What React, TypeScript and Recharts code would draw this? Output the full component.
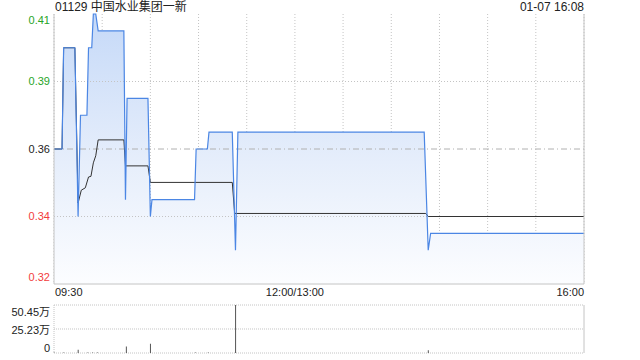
import {
  ComposedChart,
  Area,
  Line,
  Bar,
  XAxis,
  YAxis,
  CartesianGrid,
  ReferenceLine,
} from 'recharts'

// minutes since 09:30 (lunch break removed), price in HKD
const priceTimes = [0, 5, 6, 13, 15, 16.5, 20.5, 21.5, 23.5, 24.5, 26, 27.5, 43.5, 44.5, 45.5, 58.5, 60, 61, 87.5, 88.5, 95.5, 96.5, 111, 113, 114.5, 230.5, 233, 234.5, 330]
const priceValues = [0.365, 0.365, 0.395, 0.395, 0.345, 0.375, 0.375, 0.395, 0.395, 0.405, 0.405, 0.4, 0.4, 0.35, 0.38, 0.38, 0.345, 0.35, 0.35, 0.365, 0.365, 0.37, 0.37, 0.335, 0.37, 0.37, 0.335, 0.34, 0.34]

const avgTimes = [0, 5, 6, 13, 15, 17, 19.5, 21.5, 23, 24.5, 26, 27.5, 43.5, 44.5, 58.5, 60, 111, 112.5, 231.5, 233, 330]
const avgValues = [0.365, 0.365, 0.395, 0.395, 0.349, 0.3528, 0.3535, 0.3567, 0.3569, 0.3609, 0.363, 0.3677, 0.3677, 0.36, 0.36, 0.3551, 0.3551, 0.3459, 0.3459, 0.345, 0.345]

// volume in 万
const volTimes = [0, 6, 15, 21, 24, 27, 45, 60, 88, 96, 113, 233]
const volValues = [0.5, 0.6, 3.5, 0.4, 0.5, 0.6, 6.9, 9.7, 0.4, 0.4, 50.45, 2.8]

const prevClose = 0.365
const priceTicks = [0.325, 0.345, 0.365, 0.385, 0.405]
const priceLabels = ['0.32', '0.34', '0.36', '0.39', '0.41']
const pctLabels = ['-10.96%', '-5.48%', '0.00%', '+5.48%', '+10.96%']
const timeTicks = [0, 30, 60, 90, 120, 150, 180, 210, 240, 270, 300, 330]
const timeLabels: Record<number, string> = { 0: '09:30', 150: '12:00/13:00', 330: '16:00' }
const volTicks = [0, 25.23, 50.45]
const volLabels = ['0', '25.23万', '50.45万']

const priceData = priceTimes.map((t, i) => ({ t, v: priceValues[i] }))
const avgData = avgTimes.map((t, i) => ({ t, a: avgValues[i] }))
const volData = volTimes.map((t, i) => ({ t, vol: volValues[i] }))

const FONT = '"Liberation Sans", Arial, "Noto Sans CJK SC", sans-serif'
const GREEN = '#27a527'
const RED = '#f23c3c'
const GRID = '#c4c4c4'

function tickColor(v: number) {
  if (Math.abs(v - prevClose) < 1e-6) return '#222'
  return v > prevClose ? GREEN : RED
}

function edgeShift(i: number, n: number) {
  if (i === 0) return -7
  if (i === n - 1) return 6
  return 0
}

const LeftPriceTick = (props: any) => {
  const { x, y, payload, index } = props
  return (
    <text x={x} y={y + edgeShift(index, priceTicks.length)} dy="0.35em" textAnchor="end" fontSize={11} fontFamily={FONT} fill={tickColor(payload.value)}>
      {priceLabels[index]}
    </text>
  )
}

const RightPctTick = (props: any) => {
  const { x, y, payload, index } = props
  return (
    <text x={x} y={y + edgeShift(index, priceTicks.length)} dy="0.35em" textAnchor="start" fontSize={11} fontFamily={FONT} fill={tickColor(payload.value)}>
      {pctLabels[index]}
    </text>
  )
}

const TimeTick = (props: any) => {
  const { x, y, payload } = props
  const label = timeLabels[payload.value]
  if (!label) return null
  const anchor = payload.value === 0 ? 'start' : payload.value === 330 ? 'end' : 'middle'
  return (
    <text x={payload.value === 0 ? x + 1 : x} y={y} dy="0.71em" textAnchor={anchor} fontSize={11} fontFamily={FONT} fill="#222">
      {label}
    </text>
  )
}

const VolTick = (props: any) => {
  const { x, y, index } = props
  const shift = index === 0 ? -5 : index === volTicks.length - 1 ? 7 : 1
  return (
    <text x={x} y={y + shift} dy="0.35em" textAnchor="end" fontSize={11} fontFamily={FONT} fill="#222">
      {volLabels[index]}
    </text>
  )
}

export default function App() {
  return (
    <div style={{ position: 'absolute', left: 0, top: 0, width: 640, height: 360, background: '#fff', fontFamily: FONT }}>
      <div style={{ position: 'absolute', left: 55, top: 0, fontSize: 12, lineHeight: '14px', color: '#222' }}>
        01129 中国水业集团一新
      </div>
      <div style={{ position: 'absolute', right: 56, top: 0, fontSize: 12, lineHeight: '14px', color: '#222' }}>
        01-07 16:08
      </div>

      <div style={{ position: 'absolute', left: 0, top: 0 }}>
        <ComposedChart width={640} height={300} margin={{ top: 14, right: 0, bottom: 0, left: 0 }}>
          <defs>
            <linearGradient id="priceFill" x1="0" y1="0" x2="0" y2="1">
              <stop offset="0%" stopColor="#c5d9f8" />
              <stop offset="55%" stopColor="#e6eefb" />
              <stop offset="100%" stopColor="#fcfdff" />
            </linearGradient>
          </defs>
          <XAxis
            type="number"
            dataKey="t"
            domain={[0, 330]}
            ticks={timeTicks}
            height={16}
            tickSize={0}
            tickMargin={4}
            tick={<TimeTick />}
            axisLine={{ stroke: GRID }}
            interval={0}
          />
          <YAxis
            yAxisId="l"
            type="number"
            domain={[0.325, 0.405]}
            ticks={priceTicks}
            width={54}
            tickSize={0}
            tickMargin={4}
            tick={<LeftPriceTick />}
            axisLine={{ stroke: GRID }}
            interval={0}
          />
          <YAxis
            yAxisId="r"
            orientation="right"
            type="number"
            domain={[0.325, 0.405]}
            ticks={priceTicks}
            width={56}
            tickSize={0}
            tickMargin={6}
            tick={<RightPctTick />}
            axisLine={{ stroke: GRID }}
            interval={0}
          />
          <CartesianGrid yAxisId="l" horizontal={false} stroke={GRID} strokeDasharray="1 2" />
          <ReferenceLine yAxisId="l" y={0.345} stroke={GRID} strokeDasharray="1 2" />
          <ReferenceLine yAxisId="l" y={0.385} stroke={GRID} strokeDasharray="1 2" />
          <ReferenceLine yAxisId="l" y={prevClose} stroke="#b0b0b0" strokeDasharray="6 3 1 3" />
          <Area
            yAxisId="l"
            data={priceData}
            dataKey="v"
            type="linear"
            stroke="none"
            fill="url(#priceFill)"
            fillOpacity={1}
            isAnimationActive={false}
            dot={false}
            activeDot={false}
          />
          <Line
            yAxisId="l"
            data={avgData}
            dataKey="a"
            type="linear"
            stroke="#333"
            strokeWidth={1}
            dot={false}
            activeDot={false}
            isAnimationActive={false}
          />
          <Line
            yAxisId="l"
            data={priceData}
            dataKey="v"
            type="linear"
            stroke="#4b86e4"
            strokeWidth={1.2}
            dot={false}
            activeDot={false}
            isAnimationActive={false}
          />
          <text x={573} y={282} textAnchor="end" fontSize={11} fontFamily={FONT} fill="#cfcfcf">
            sina.com
          </text>
        </ComposedChart>
      </div>

      <div style={{ position: 'absolute', left: 0, top: 300 }}>
        <ComposedChart width={640} height={60} data={volData} margin={{ top: 5, right: 0, bottom: 7, left: 0 }}>
          <XAxis type="number" dataKey="t" domain={[0, 330]} hide />
          <YAxis
            yAxisId="l"
            type="number"
            domain={[0, 50.45]}
            ticks={volTicks}
            width={54}
            tickSize={0}
            tickMargin={4}
            tick={<VolTick />}
            axisLine={{ stroke: GRID, strokeDasharray: '1 1' }}
            interval={0}
          />
          <YAxis yAxisId="r" orientation="right" width={56} tick={false} tickLine={false} axisLine={{ stroke: GRID }} domain={[0, 50.45]} />
          <CartesianGrid yAxisId="l" vertical={false} stroke={GRID} strokeDasharray="1 1" />
          <Bar yAxisId="l" dataKey="vol" fill="#555" barSize={1} isAnimationActive={false} />
        </ComposedChart>
      </div>
    </div>
  )
}
